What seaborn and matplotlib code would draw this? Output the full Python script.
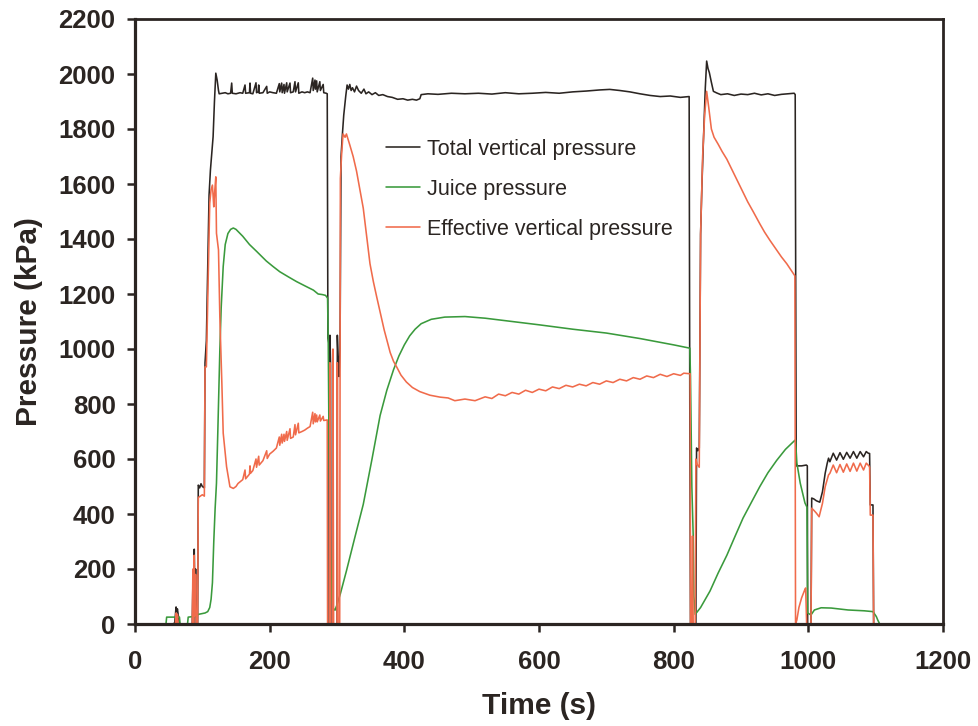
import matplotlib
matplotlib.use("Agg")
import matplotlib.pyplot as plt
import seaborn as sns
import pandas as pd

# ---------------- data ----------------
total_t = [0, 57, 59, 61, 62, 63, 65, 66, 85, 86, 87, 88, 89, 90, 91, 93, 94, 96, 98, 100, 103,
           104, 106, 108, 110, 112, 114, 116, 118, 120, 122, 124, 125,
           130, 134, 138, 142, 143.6, 144.5, 150, 156, 160, 163.4, 164.3, 170, 170.8, 171.6, 175,
           179.7, 180.5, 183, 183.7, 184.5, 190, 195.6, 196.4, 200, 205, 210, 214.3, 215, 217.8,
           218.6, 221.3, 222, 225.3, 226, 230.2, 231, 235, 237.6, 238.4, 242.5, 243.3, 248, 252,
           256, 260, 263.9, 264.7, 267.3, 268, 269.8, 270.6, 274.5, 275.3, 279.5, 280.3, 284, 285.5,
           286.5, 288, 288.5, 289, 289.5, 290.5, 291, 300, 300.5, 302, 303, 304.5, 306, 308, 310,
           313, 315, 317, 319, 321, 323, 326, 329, 332, 336, 340, 343, 347, 352, 357, 362, 368,
           375, 382, 390, 398, 405, 412, 418, 423, 425, 435, 450, 470, 490, 510, 530, 550, 570,
           590, 610, 630, 650, 670, 690, 705, 720, 735, 750, 765, 780, 795, 810, 823,
           824, 825, 833, 834, 836, 838, 839, 840, 842, 844, 847, 849, 851, 853, 856, 859, 864,
           870, 880, 890, 900, 910, 920, 930, 940, 950, 960, 970, 979, 980.5,
           982, 990, 997, 998.5, 999, 1004, 1005, 1008, 1012, 1017, 1021, 1025, 1028, 1030, 1032,
           1037, 1042, 1047, 1052, 1057, 1062, 1067, 1072, 1077, 1082, 1086, 1089, 1091, 1092,
           1096, 1097, 1100]
total_p = [0, 0, 5, 62, 45, 55, 20, 0, 0, 150, 0, 272, 60, 200, 0, 0, 505, 495, 510, 500, 495,
           950, 1030, 1300, 1560, 1650, 1712, 1772, 1900, 2003, 1978, 1940, 1928,
           1930, 1932, 1928, 1930, 1967, 1930, 1928, 1932, 1930, 1960, 1930, 1932, 1967, 1930, 1928,
           1968, 1932, 1935, 1960, 1930, 1932, 1955, 1930, 1935, 1932, 1930, 1965, 1935, 1967,
           1932, 1962, 1930, 1968, 1935, 1967, 1932, 1935, 1972, 1935, 1968, 1930, 1935, 1932,
           1935, 1932, 1985, 1940, 1978, 1945, 1975, 1935, 1972, 1940, 1962, 1932, 1930, 1928,
           1040, 1020, 0, 0, 1050, 940, 0, 0, 1050, 940, 900, 1000, 1700, 1780, 1850,
           1920, 1960, 1945, 1962, 1940, 1950, 1935, 1956, 1940, 1930, 1945, 1928, 1935, 1925, 1932, 1922, 1925,
           1918, 1915, 1908, 1910, 1905, 1908, 1905, 1910, 1925, 1928, 1926, 1930, 1928, 1930, 1927, 1932, 1928,
           1930, 1933, 1930, 1935, 1938, 1942, 1944, 1940, 1935, 1928, 1922, 1918, 1920, 1915, 1918,
           730, 0, 0, 640, 630, 640, 1000, 1418, 1600, 1745, 1950, 2047, 2020, 2005, 1970, 1937, 1931,
           1925, 1928, 1922, 1927, 1925, 1930, 1924, 1928, 1922, 1926, 1928, 1930, 1925,
           575, 575, 578, 575, 0, 0, 458, 455, 448, 443, 481, 548, 584, 603, 590,
           621, 596, 623, 599, 624, 603, 627, 603, 627, 608, 627, 621, 620, 433,
           433, 0, 0]

juice_t = [0, 46, 47, 66, 67, 78, 79, 90, 94, 100, 104, 108, 111, 113, 115, 117, 119, 121, 123,
           126, 128, 131, 134, 138, 142, 146, 150, 160, 170, 181, 195, 205, 215, 228, 240, 252,
           265, 272, 278, 283, 286, 287, 288, 290, 292, 294, 297, 300, 305, 314, 326, 339, 352,
           364, 374, 384, 392, 400, 408, 416, 425, 440, 460, 490, 520, 560, 600, 650, 700, 750,
           800, 824,
           825, 827, 829, 830, 832, 840, 854, 866, 879, 891, 903, 916, 928, 940, 953, 966, 980,
           981, 983, 988, 995, 998, 999, 1004, 1009, 1019, 1034, 1059, 1083, 1096, 1101, 1103,
           1106, 1110]
juice_p = [0, 0, 25, 25, 0, 0, 25, 28, 35, 38, 40, 45, 60, 90, 150, 300, 420, 512, 700,
           996, 1150, 1300, 1380, 1420, 1435, 1440, 1435, 1410, 1380, 1354, 1320, 1300, 1281, 1262, 1245, 1230,
           1214, 1200, 1198, 1195, 1185, 1020, 700, 300, 100, 58, 50, 70, 110, 193, 310, 435, 600,
           758, 850, 925, 975, 1015, 1048, 1072, 1092, 1108, 1116, 1118, 1112, 1100, 1088, 1072, 1058, 1038,
           1015, 1003,
           900, 500, 322, 100, 35, 60, 120, 185, 250, 318, 385, 445, 500, 550, 595, 635, 668,
           669, 585, 512, 440, 425, 40, 33, 51, 59, 58, 51, 48, 45, 27, 15,
           0, 0]

eff_t = [0, 60, 61, 62, 63, 64, 85, 86, 87, 88, 89, 90, 91, 93, 94, 100, 103, 104, 106, 109,
         111, 113, 115, 117, 118, 120, 121, 124, 126, 129, 131, 136, 141, 146,
         150, 153, 160, 163.4, 164.3, 170, 170.8, 171.6, 175, 179.7, 180.5, 183.7, 184.5, 190,
         195.6, 196.4, 200, 205, 210, 214.3, 215, 217.8, 218.6, 221.3, 222, 225.3, 226, 230.2,
         231, 235, 237.6, 238.4, 242.5, 243.3, 248, 252, 256, 260, 263.9, 264.7, 267.3, 268,
         269.8, 270.6, 274.5, 275.3, 279.5, 280.3, 285.5, 286, 289, 289.5, 290, 293, 294, 295,
         300, 300.5, 301.5, 304, 305, 307, 309, 312, 314, 319, 324, 329, 334, 339, 344, 349,
         354, 359, 364, 370, 379, 384, 389, 395, 403, 412, 423, 438, 453,
         465, 475, 490, 505, 520, 530, 540, 550, 560, 570, 580, 590, 600, 610, 620, 630, 640,
         650, 660, 670, 680, 690, 700, 710, 720, 730, 740, 750, 760, 770, 780, 790, 800, 810,
         815, 823, 824.5, 825, 827, 828, 829, 832, 833, 835, 838, 840, 843, 846, 849, 852, 856,
         860, 866, 872, 879, 886, 893, 903, 910, 918, 928, 935, 943, 953, 960, 968, 980, 981,
         983, 986, 990, 994, 996, 997.5, 1004, 1005, 1008, 1012, 1016, 1021, 1025, 1030, 1032,
         1037, 1042, 1047, 1052, 1057, 1062, 1067, 1072, 1077, 1082, 1086, 1090, 1091, 1092,
         1096, 1097, 1108]
eff_p = [0, 0, 40, 0, 35, 0, 0, 200, 0, 250, 30, 180, 0, 0, 460, 470, 465, 935, 935, 1300,
         1530, 1580, 1596, 1517, 1560, 1626, 1421, 1360, 1117, 875, 694, 572, 499, 493,
         500, 511, 525, 560, 528, 545, 575, 548, 558, 600, 570, 610, 578, 594,
         630, 602, 618, 628, 640, 680, 650, 690, 658, 690, 664, 700, 668, 710,
         675, 680, 725, 688, 730, 695, 700, 705, 712, 718, 770, 728, 765, 735,
         760, 735, 760, 738, 755, 740, 742, 0, 0, 950, 0, 0, 1000, 0,
         0, 950, 0, 0, 1620, 1714, 1782, 1770, 1782, 1742, 1700, 1647, 1580, 1512, 1410, 1310,
         1245, 1189, 1135, 1070, 987, 955, 933, 905, 880, 860, 845, 832, 825,
         822, 812, 818, 812, 826, 820, 836, 830, 842, 836, 850, 842, 854, 848, 862, 856, 868,
         862, 872, 866, 878, 872, 884, 878, 890, 884, 896, 890, 902, 896, 908, 900, 910, 904,
         912, 910, 910, 0, 0, 320, 0, 0, 600, 580, 570, 1417, 1700, 1850, 1937, 1880, 1800,
         1770, 1745, 1718, 1690, 1655, 1620, 1570, 1535, 1500, 1455, 1425, 1395, 1360, 1335, 1310, 1266, 0,
         15, 60, 95, 120, 131, 0, 0, 421, 414, 403, 390, 439, 499, 542, 548,
         578, 550, 580, 552, 582, 555, 585, 556, 585, 560, 585, 575, 570, 396,
         396, 0, 0]

series_names = ["Total vertical pressure", "Juice pressure", "Effective vertical pressure"]
x_ticks = [0, 200, 400, 600, 800, 1000, 1200]
y_ticks = [0, 200, 400, 600, 800, 1000, 1200, 1400, 1600, 1800, 2000, 2200]

# ---------------- styling ----------------
sns.set_style("ticks")
plt.rcParams["font.family"] = ["Liberation Sans", "DejaVu Sans"]
dark = "#2b2522"
colors = {"Total vertical pressure": "#2b2522",
          "Juice pressure": "#3a9a3c",
          "Effective vertical pressure": "#f06b4b"}

fig = plt.figure(figsize=(9.79, 7.26), dpi=100)
ax = fig.add_axes([135 / 979, 1 - 624 / 726, (943 - 135) / 979, (624 - 19) / 726])

frames = [
    pd.DataFrame({"t": total_t, "p": total_p}),
    pd.DataFrame({"t": juice_t, "p": juice_p}),
    pd.DataFrame({"t": eff_t, "p": eff_p}),
]
for name, df in zip(series_names, frames):
    sns.lineplot(data=df, x="t", y="p", ax=ax, sort=False, estimator=None,
                 color=colors[name], linewidth=1.15, label=name)

ax.set_xlim(0, 1200)
ax.set_ylim(0, 2200)
ax.set_xticks(x_ticks)
ax.set_yticks(y_ticks)
ax.set_xticklabels([str(v) for v in x_ticks])
ax.set_yticklabels([str(v) for v in y_ticks])

for side in ["left", "bottom"]:
    ax.spines[side].set_linewidth(2.3)
    ax.spines[side].set_color(dark)
for side in ["top", "right"]:
    ax.spines[side].set_visible(True)
    ax.spines[side].set_linewidth(2.0)
    ax.spines[side].set_color(dark)

ax.tick_params(axis="both", direction="out", length=6, width=1.8, color=dark,
               labelsize=18.5, labelcolor=dark)
ax.tick_params(axis="y", pad=8)
ax.tick_params(axis="x", pad=13)
for lab in ax.get_xticklabels() + ax.get_yticklabels():
    lab.set_fontweight("bold")

ax.set_xlabel("Time (s)", fontsize=21.5, fontweight="bold", color=dark, labelpad=13)
ax.set_ylabel("Pressure (kPa)", fontsize=21.5, fontweight="bold", color=dark, labelpad=11)

leg = ax.legend(loc="upper left", bbox_to_anchor=((386 - 135) / 808, 1 - (139 - 19) / 605),
                frameon=False, fontsize=15.5, handlelength=1.6, handletextpad=0.3,
                labelspacing=0.88, borderaxespad=0, borderpad=0)
for txt in leg.get_texts():
    txt.set_color(dark)

fig.savefig("out.png", dpi=100)
